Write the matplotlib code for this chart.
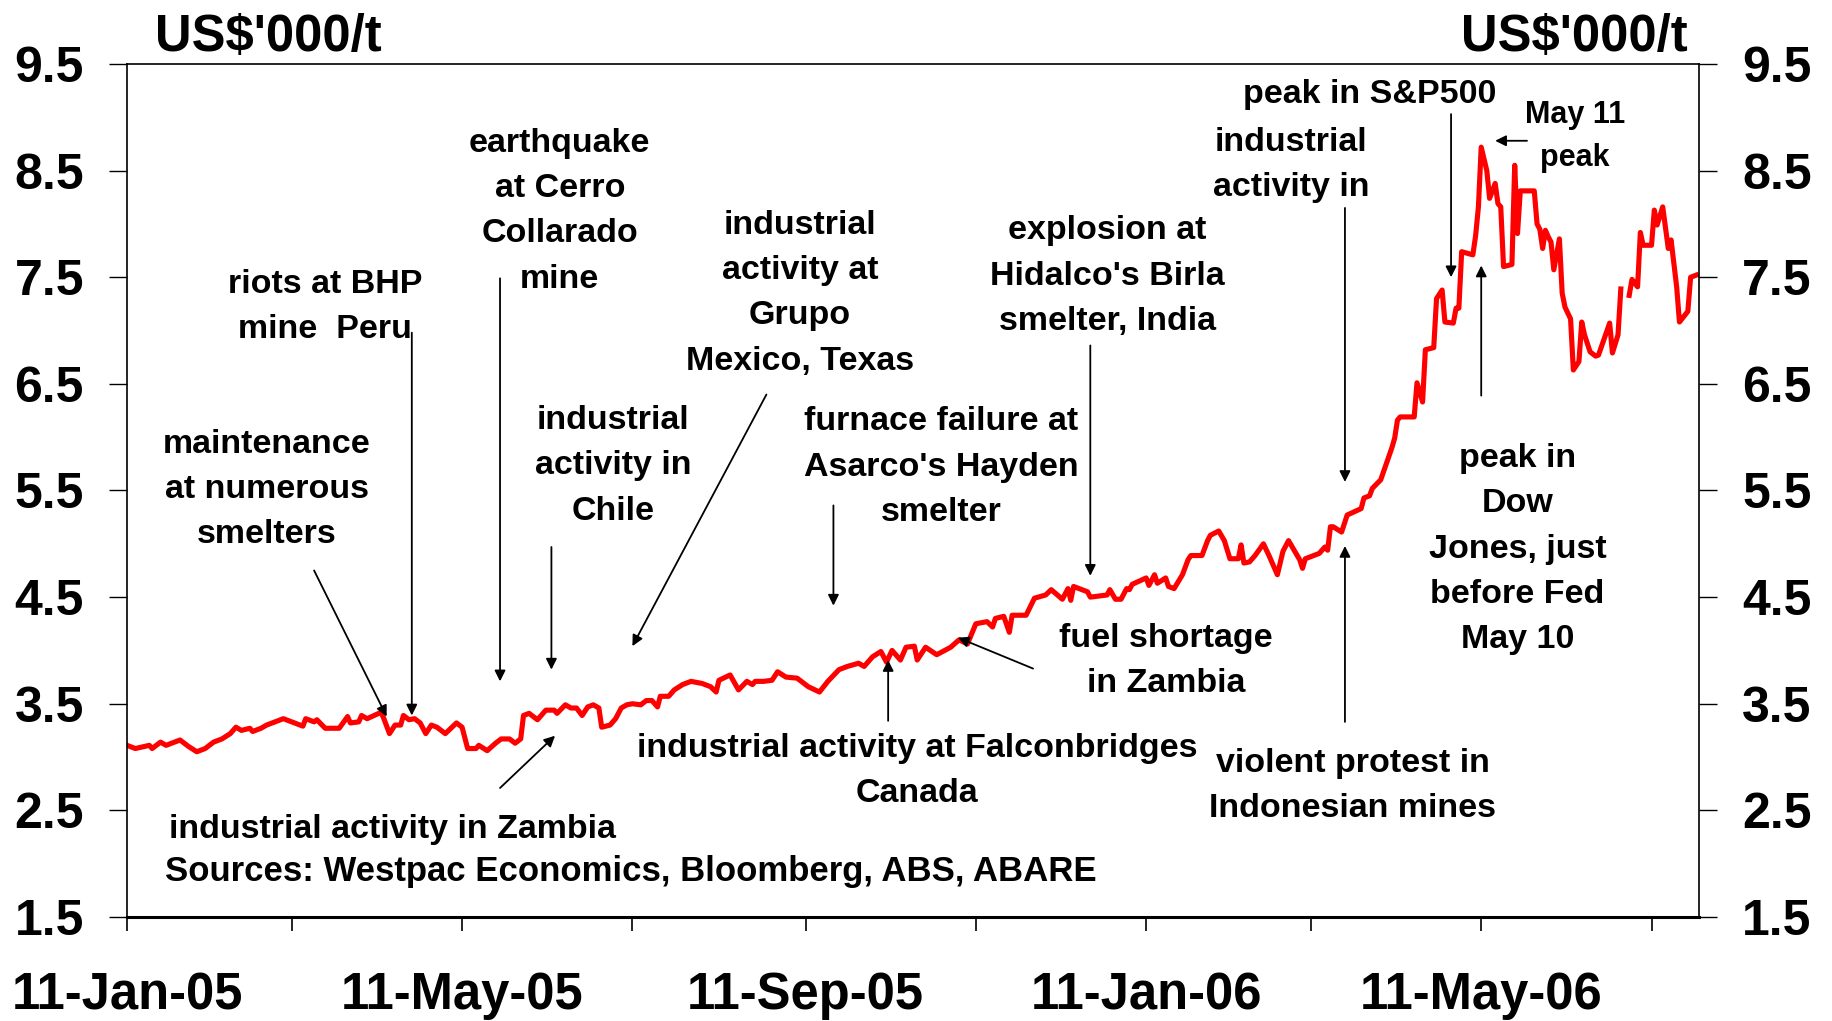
import matplotlib.pyplot as plt
import matplotlib.dates as mdates
import matplotlib.ticker as mticker
import numpy as np

plt.rcParams['font.family'] = ['Liberation Sans', 'DejaVu Sans']
plt.rcParams['font.weight'] = 'bold'

# LME copper, US$'000/t, days counted from 11-Jan-05
start = mdates.date2num(np.datetime64('2005-01-11'))
end = mdates.date2num(np.datetime64('2006-07-28'))

days = [0, 3, 8, 9, 12, 14, 17, 19, 22, 25, 28, 31, 34, 37, 39, 41, 44, 45, 48, 50,
        53, 56, 60, 63, 64, 67, 68, 71, 76, 79, 80, 83, 84, 86, 91, 92, 94, 96, 98, 99,
        101, 103, 105, 107, 109, 111, 114, 116, 118, 120, 122, 125, 126, 129, 132, 134,
        137, 139, 141, 142, 144, 147, 150, 153, 154, 157, 159, 161, 163, 165, 167, 169,
        170, 173, 175, 177, 179, 181, 184, 186, 188, 190, 191, 194, 196, 199, 202, 206,
        209, 211, 212, 216, 219, 222, 224, 225, 228, 231, 233, 236, 240, 244, 248, 251,
        255, 258, 262, 264, 267, 270, 272, 274, 277, 279, 282, 283, 286, 290, 295, 298,
        301, 304, 308, 310, 311, 314, 316, 317, 322, 325, 329, 331, 335, 337, 338, 339,
        344, 345, 351, 352, 354, 356, 358, 359, 360, 365, 366, 368, 369, 372, 373, 375,
        378, 380, 381, 385, 387, 388, 391, 393, 395, 398, 399, 400, 402, 404, 407, 409,
        412, 414, 416, 418, 420, 421, 422, 427, 429, 430, 431, 432, 435, 437, 442, 443,
        445, 446, 449, 451, 453, 454, 455, 456, 461, 462, 464, 465, 468, 469, 471, 472,
        475, 476, 477, 478, 482, 483, 484, 485, 487, 488, 490, 491, 492, 493, 496, 497,
        498, 499, 504, 505, 506, 507, 508, 509, 510, 511, 513, 514, 515, 517, 518, 520,
        521, 522, 524, 526, 527, 531, 532, 534, 535, 536, 538, 539, 541, 542, 543, 546,
        547, 548, 550, 552, 553, 555, 556, 559, 560, 562]

price = [3.11, 3.08, 3.11, 3.08, 3.14, 3.11, 3.14, 3.16, 3.10, 3.05, 3.08, 3.14, 3.17, 3.22, 3.28, 3.25, 3.27, 3.24, 3.27, 3.30,
         3.33, 3.36, 3.32, 3.29, 3.36, 3.33, 3.35, 3.27, 3.27, 3.38, 3.32, 3.33, 3.39, 3.36, 3.42, 3.36, 3.22, 3.30, 3.30, 3.39,
         3.35, 3.36, 3.32, 3.22, 3.30, 3.28, 3.22, 3.27, 3.32, 3.28, 3.08, 3.08, 3.11, 3.06, 3.13, 3.17,
         3.17, 3.13, 3.17, 3.39, 3.41, 3.35, 3.44, 3.44, 3.41, 3.49, 3.46, 3.46, 3.39, 3.47, 3.49, 3.46,
         3.28, 3.30, 3.36, 3.46, 3.49, 3.50, 3.49, 3.53, 3.53, 3.47, 3.57, 3.57, 3.63, 3.68, 3.71, 3.69,
         3.66, 3.61, 3.72, 3.77, 3.63, 3.71, 3.68, 3.71, 3.71, 3.72, 3.80, 3.75, 3.74, 3.66, 3.61, 3.71,
         3.82, 3.85, 3.88, 3.85, 3.94, 3.99, 3.89, 4.00, 3.91, 4.03, 4.04, 3.91, 4.03, 3.96, 4.03, 4.10,
         4.06, 4.25, 4.27, 4.22, 4.30, 4.32, 4.17, 4.33, 4.33, 4.49, 4.52, 4.57, 4.48, 4.58, 4.47, 4.60,
         4.55, 4.50, 4.52, 4.57, 4.48, 4.48, 4.58, 4.57, 4.62, 4.68, 4.61, 4.71, 4.63, 4.68, 4.60, 4.58,
         4.71, 4.85, 4.89, 4.89, 5.03, 5.08, 5.12, 5.03, 4.86, 4.86, 4.99, 4.82, 4.83, 4.89, 5.00, 4.89,
         4.71, 4.93, 5.03, 4.94, 4.85, 4.77, 4.86, 4.91, 4.97, 4.94, 5.16, 5.16, 5.11, 5.27, 5.33, 5.43,
         5.45, 5.52, 5.60, 5.75, 5.90, 5.99, 6.16, 6.19, 6.19, 6.51, 6.33, 6.82, 6.84, 7.30, 7.38, 7.08,
         7.07, 7.21, 7.21, 7.74, 7.71, 7.89, 8.16, 8.72, 8.50, 8.24, 8.38, 8.19, 8.16, 7.60, 7.62, 8.55,
         7.91, 8.31, 8.31, 8.00, 7.95, 7.77, 7.94, 7.88, 7.83, 7.57, 7.86, 7.35, 7.22, 7.11, 6.63, 6.71,
         7.08, 6.96, 6.80, 6.76, 6.77, 7.07, 6.79, 6.96, 7.39, np.nan, 7.33, 7.48, 7.41, 7.92, 7.80, 7.80,
         8.13, 7.99, 8.16, 7.77, 7.85, 7.41, 7.08, 7.18, 7.50, 7.52]

# (text, text centre (day, value), arrow tail, arrow head, font size)
notes = [
    ("maintenance\nat numerous\nsmelters", (50, 5.51), (67, 4.75), (93, 3.38), 24.5),
    ("riots at BHP\nmine  Peru", (71, 7.22), (102, 6.98), (102, 3.39), 24.5),
    ("earthquake\nat Cerro\nCollarado\nmine", (155, 8.12), (133.6, 7.49), (133.6, 3.71), 24.5),
    ("industrial\nactivity in\nChile", (174, 5.73), (152, 4.97), (152, 3.82), 24.5),
    ("industrial\nactivity at\nGrupo\nMexico, Texas", (241, 7.35), (229, 6.40), (181, 4.04), 24.5),
    ("industrial activity in Zambia", (95, 2.32), (133.6, 2.71), (153.3, 3.20), 24.5),
    ("furnace failure at\nAsarco's Hayden\nsmelter", (291.5, 5.72), (253, 5.36), (253, 4.42), 24.5),
    ("explosion at\nHidalco's Birla\nsmelter, India", (351, 7.51), (345, 6.86), (345, 4.70), 24.5),
    ("fuel shortage\nin Zambia", (372, 3.90), (324.5, 3.83), (297.6, 4.12), 24.5),
    ("industrial activity at Falconbridges\nCanada", (283, 2.87), (272.6, 3.34), (272.6, 3.91), 24.5),
    ("violent protest in\nIndonesian mines", (439, 2.73), (436.2, 3.33), (436.2, 4.98), 24.5),
    ("peak in S&P500", (445, 9.21), (474.2, 9.03), (474.2, 7.50), 24.5),
    ("industrial\nactivity in", (417, 8.55), (436.2, 8.15), (436.2, 5.58), 24.5),
    ("May 11\npeak", (518.6, 8.82), (501.4, 8.78), (490, 8.78), 22),
    ("peak in\nDow\nJones, just\nbefore Fed\nMay 10", (498, 4.95), (485, 6.39), (485, 7.61), 24.5),
]

fig = plt.figure(figsize=(18.32, 10.21), dpi=100)
ax = fig.add_axes([127 / 1832, 104 / 1021, 1572 / 1832, 853 / 1021])

ax.plot(start + np.array(days), price, color='#ff0000', lw=3.7, solid_joinstyle='round')

ax.set_xlim(start, end)
ax.set_ylim(1.5, 9.5)
ax.set_yticks(np.arange(1.5, 9.6, 1.0))
ax.yaxis.set_major_formatter(mticker.FormatStrFormatter('%.1f'))

ax.xaxis.set_major_locator(mdates.MonthLocator(bymonth=[1, 3, 5, 7, 9, 11], bymonthday=11))


def date_label(x, pos):
    d = mdates.num2date(x)
    return d.strftime('%d-%b-%y') if d.month in (1, 5, 9) else ''


ax.xaxis.set_major_formatter(mticker.FuncFormatter(date_label))

ax.tick_params(axis='y', which='both', direction='out', left=True, right=True,
               labelleft=True, labelright=True, length=13, width=1.0,
               labelsize=36, pad=18)
ax.tick_params(axis='x', direction='out', length=10, width=1.2, labelsize=36.5, pad=29)

for side in ['left', 'right', 'top']:
    ax.spines[side].set_linewidth(1.2)
ax.spines['bottom'].set_linewidth(2.2)

for text, (tx, ty), (ax0, ay0), (ax1, ay1), size in notes:
    ax.text(start + tx, ty, text, ha='center', va='center', fontsize=size,
            fontweight='bold', linespacing=1.6)
    ax.annotate('', xy=(start + ax1, ay1), xytext=(start + ax0, ay0),
                arrowprops=dict(arrowstyle='-|>', color='black', lw=1.3,
                                mutation_scale=16, shrinkA=0, shrinkB=0))

ax.text(start + 13.6, 1.93, "Sources: Westpac Economics, Bloomberg, ABS, ABARE",
        ha='left', va='center', fontsize=25, fontweight='bold')

fig.text(155 / 1832, 1 - 51 / 1021, "US$'000/t", ha='left', va='baseline',
         fontsize=36.5, fontweight='bold')
fig.text(1688 / 1832, 1 - 51 / 1021, "US$'000/t", ha='right', va='baseline',
         fontsize=36.5, fontweight='bold')

fig.savefig('out.png', dpi=100)
